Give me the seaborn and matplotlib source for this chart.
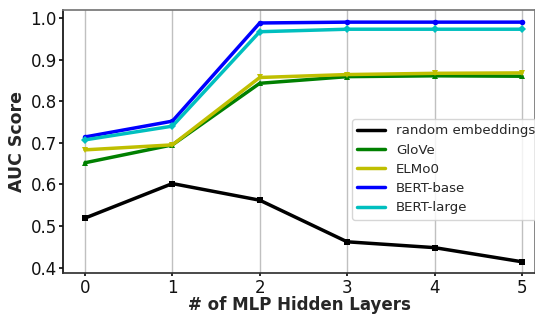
import pandas as pd
import seaborn as sns
import matplotlib.pyplot as plt

layers = [0, 1, 2, 3, 4, 5]
random_emb = [0.519, 0.602, 0.562, 0.462, 0.448, 0.414]
glove = [0.652, 0.695, 0.843, 0.859, 0.861, 0.860]
elmo0 = [0.683, 0.695, 0.857, 0.864, 0.867, 0.868]
bert_base = [0.714, 0.752, 0.988, 0.990, 0.990, 0.990]
bert_large = [0.707, 0.740, 0.967, 0.973, 0.973, 0.973]

names = ['random embeddings', 'GloVe', 'ELMo0', 'BERT-base', 'BERT-large']
colors = ['#000000', '#008000', '#bfbf00', '#0000ff', '#00bfbf']
markers = ['s', '^', 'v', 'o', 'D']


def main():
    series = [random_emb, glove, elmo0, bert_base, bert_large]
    df = pd.DataFrame({
        'layers': layers * len(names),
        'auc': [v for s in series for v in s],
        'model': [n for n in names for _ in layers],
    })

    sns.set_theme(style='ticks')
    plt.rcParams['font.family'] = ['DejaVu Sans']
    fig, ax = plt.subplots(figsize=(5.35, 3.15), dpi=100)
    sns.lineplot(data=df, x='layers', y='auc', hue='model', hue_order=names,
                 palette=dict(zip(names, colors)), style='model',
                 style_order=names, markers=dict(zip(names, markers)),
                 dashes=False, markersize=4, markeredgewidth=0,
                 linewidth=2.5, ax=ax)

    ax.set_xlim(-0.25, 5.15)
    ax.set_ylim(0.386, 1.019)
    ax.set_xticks(layers)
    ax.set_yticks([0.4, 0.5, 0.6, 0.7, 0.8, 0.9, 1.0])
    ax.xaxis.grid(True, color='#c0c0c0', linewidth=1)
    ax.tick_params(labelsize=12, colors='#111111')
    ax.tick_params(axis='x', length=2, pad=2)
    ax.tick_params(axis='y', length=3, pad=1.5)
    ax.set_xlabel('# of MLP Hidden Layers', fontsize=12, fontweight='bold', labelpad=-0.5)
    ax.set_ylabel('AUC Score', fontsize=12.5, fontweight='bold', labelpad=3)
    ax.spines['left'].set_color('#111111')
    ax.spines['bottom'].set_color('#333333')
    ax.spines['top'].set_color('#777777')
    ax.spines['right'].set_color('#777777')

    leg = ax.legend(loc='upper left', bbox_to_anchor=(352 / 535, 1 - 119 / 315),
                    bbox_transform=fig.transFigure, fontsize=9.6,
                    frameon=True, fancybox=True, handlelength=2.1,
                    labelspacing=0.47, borderpad=0.4, borderaxespad=0)
    for h in leg.get_lines():
        h.set_marker('')
        h.set_linewidth(2.5)

    fig.subplots_adjust(left=0.118, right=1.0, top=0.968, bottom=0.132)
    fig.savefig('out.png', dpi=100)


if __name__ == '__main__':
    main()
